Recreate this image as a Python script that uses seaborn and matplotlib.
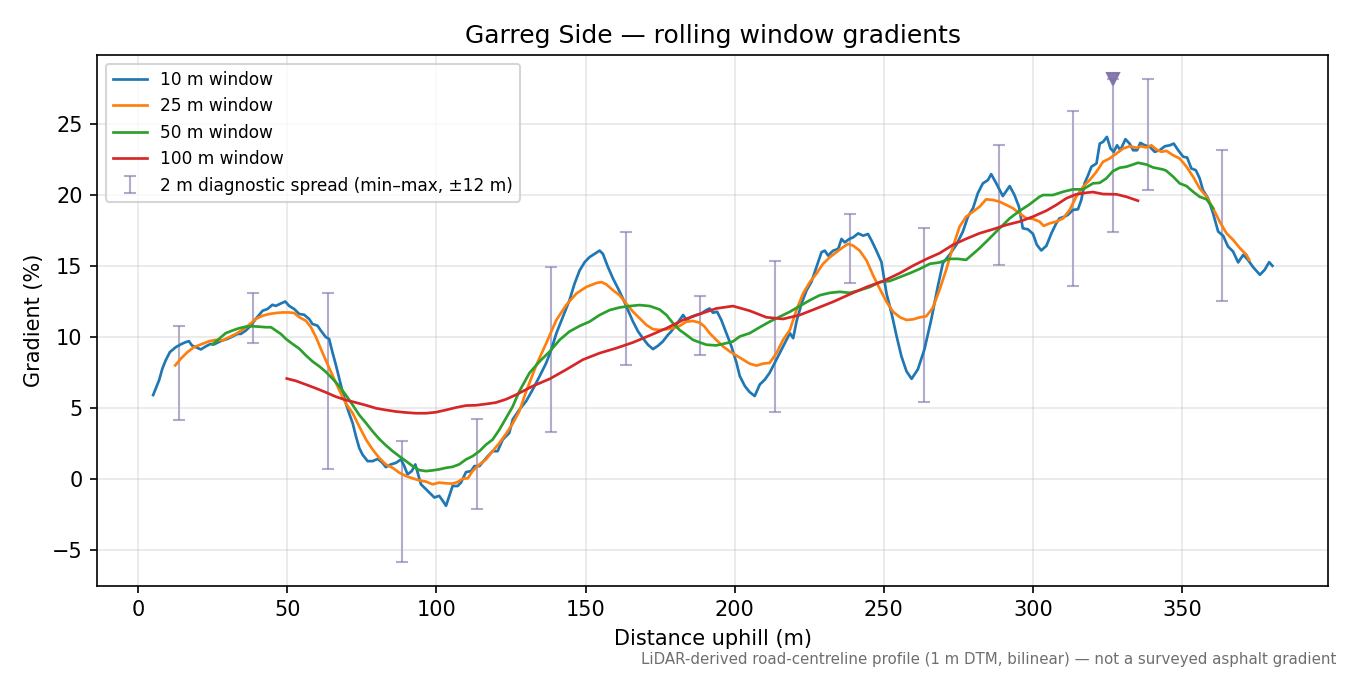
import numpy as np
import pandas as pd
import matplotlib
matplotlib.use("Agg")
import matplotlib.pyplot as plt
import seaborn as sns

# ---------------- data ----------------
x10 = [5.0, 7.0, 8.1, 9.2, 10.6, 12.6, 14.6, 15.9, 17.0, 18.0, 19.3, 21.0, 22.6, 24.3, 25.4,
       26.9, 28.2, 29.9, 31.6, 33.3, 34.4, 36.1, 37.7, 39.4, 41.7, 43.3, 45.0, 46.1, 47.8, 49.3,
       50.6, 52.3, 54.0, 55.6, 57.3, 58.4, 60.1, 61.2, 62.9, 64.0, 65.1, 66.3, 67.4, 68.5, 69.6,
       70.7, 71.9, 73.0, 74.1, 75.2, 76.9, 78.6, 80.3, 81.9, 83.0, 84.7, 86.4, 88.1, 89.2, 90.3,
       91.7, 92.9, 93.7, 94.8, 96.5, 98.2, 99.3, 100.9, 102.1, 103.2, 104.3, 105.4, 107.1, 108.2,
       109.9, 111.6, 112.7, 114.4, 115.5, 117.2, 118.8, 120.5, 122.2, 124.4,
       125.6, 127.9, 130.1, 132.3, 134.6, 136.8, 138.5, 140.2, 142.4, 144.6, 146.3, 148.0, 149.7,
       151.3, 153.0, 154.7, 155.8, 157.5, 159.2, 160.9, 162.5, 164.2, 165.9, 167.6, 169.2, 170.9,
       172.6, 174.3, 175.9, 177.6, 178.7, 179.9, 181.5, 182.7, 183.8, 185.5, 187.1, 188.8, 190.5,
       191.6, 192.7, 194.1, 195.5, 197.2, 198.9, 200.6, 201.7, 203.4, 205.0, 206.7, 208.4, 210.1,
       211.7, 213.4, 215.1, 216.8, 218.5, 219.6, 220.7, 222.4, 224.1, 225.7, 227.4, 229.1, 230.2,
       231.3, 233.0, 234.7, 235.8, 236.9, 238.4, 239.7, 241.4, 243.1, 244.7, 245.9, 247.5, 249.2,
       250.9, 252.6, 254.3, 255.9, 257.6, 259.3,
       261.4, 263.6, 265.9, 268.1, 269.8, 272.0, 274.3, 276.5, 278.2, 279.9, 281.5, 283.2, 284.9,
       286.0, 287.7, 289.9, 292.2, 293.8, 295.3, 296.6, 298.3, 300.0, 301.3, 302.8, 304.5, 306.2,
       307.8, 308.9, 310.6, 311.7, 313.4, 315.1, 316.2, 317.3, 318.5, 319.6, 321.3, 322.4, 323.5,
       324.8, 326.0, 327.1, 328.2, 329.3, 331.0, 332.4, 333.6, 334.9, 336.0, 337.5, 339.2, 340.8,
       342.5, 344.2, 345.9, 347.2, 348.7, 350.4, 351.7, 353.1, 354.6, 355.9, 357.0, 358.7, 360.4,
       362.1, 363.8, 365.4, 367.1, 368.8, 370.5, 372.1, 373.8, 376.1, 377.7, 379.2, 380.3]
g10 = [5.93, 6.98, 7.8, 8.37, 8.95, 9.3, 9.53, 9.65, 9.72, 9.42, 9.3, 9.14, 9.35, 9.53, 9.49,
       9.65, 9.77, 9.88, 10.05, 10.23, 10.23, 10.47, 10.81, 11.28, 11.86, 11.98, 12.28, 12.2, 12.37, 12.51,
       12.2, 11.98, 11.63, 11.58, 11.28, 10.93, 10.81, 10.47, 10.0, 9.88, 8.95, 8.02, 7.09, 6.16, 5.35,
       4.65, 3.95, 3.02, 2.21, 1.74, 1.28, 1.28, 1.44, 1.16, 0.86, 1.05, 1.16, 1.4, 0.93, 0.35,
       0.58, 1.05, 0.47, -0.35, -0.7, -1.05, -1.28, -1.16, -1.51, -1.86, -1.16, -0.47, -0.47, -0.23,
       0.51, 0.58, 0.93, 0.93, 1.21, 1.63, 1.98, 1.98, 2.79, 3.26,
       4.23, 4.93, 5.51, 6.33, 7.26, 8.19, 9.12, 10.28, 11.44, 12.6, 13.77, 14.7, 15.28,
       15.63, 15.86, 16.09, 15.86, 14.93, 14.12, 13.42, 12.72, 11.91, 11.09, 10.4, 9.93, 9.47,
       9.16, 9.4, 9.7, 10.16, 10.4, 10.74, 11.21, 11.56, 11.21, 11.44, 11.56, 11.67, 11.91,
       12.02, 11.72, 11.79, 11.21, 10.28, 9.35, 8.19, 7.26, 6.56, 6.14, 5.86, 6.67, 7.02,
       7.49, 8.19, 8.88, 9.58, 10.28, 9.93, 11.09, 12.37, 13.3, 13.88, 14.93, 15.98, 16.09,
       15.74, 16.09, 16.21, 16.91, 16.67, 16.91, 17.02, 17.3, 17.14, 17.26, 16.79, 16.09, 15.28,
       13.07, 11.67, 10.05, 8.65, 7.6, 7.07,
       7.73, 9.14, 11.24, 13.57, 15.21, 15.79, 16.5, 17.43, 18.48, 19.07, 20.12, 20.82, 21.05,
       21.47, 20.82, 19.93, 20.63, 20.0, 19.18, 17.66, 17.59, 17.27, 16.5, 16.1, 16.43, 17.31,
       18.01, 18.36, 18.48, 18.6, 18.95, 19.0, 19.65, 20.82, 21.4, 21.99, 22.22, 23.62, 23.74,
       24.09, 23.27, 23.04, 23.5, 23.15, 23.93, 23.62, 23.15, 23.15, 23.67, 23.5, 23.39, 23.04,
       23.15, 23.43, 23.5, 23.62, 23.15, 22.69, 22.64, 21.87, 21.75, 21.17, 20.35, 19.77, 18.71,
       17.43, 17.13, 16.38, 16.03, 15.26, 15.79, 15.44, 14.93, 14.39, 14.74, 15.28, 15.02]

x25 = [12.4, 14.3, 16.5, 18.7, 21.0, 23.8, 26.0, 28.2, 30.5, 32.7, 34.9, 37.2, 39.4, 41.7, 43.9,
       46.1, 48.4, 50.6, 52.3, 54.0, 56.2, 57.9, 59.6, 61.2, 62.9, 65.1, 67.4, 69.6, 71.9, 74.1,
       76.4, 78.6, 80.8, 83.0, 85.3, 87.5, 89.8, 92.0, 94.2, 96.5, 98.7, 100.9, 103.2, 105.4, 107.1,
       108.8, 110.5, 112.1, 114.4, 116.6, 118.8, 121.1, 123.3, 125.5, 127.8, 130.1, 133.4, 136.8,
       140.2, 143.5, 146.9, 150.2, 153.6, 155.3, 156.9, 159.2, 161.4, 163.6, 165.9, 168.1, 170.4,
       172.6, 174.8, 177.1, 179.3, 181.5, 183.8, 186.0, 188.3, 189.9, 191.6, 193.8, 196.1, 198.3,
       200.6, 202.8, 205.0, 207.3, 209.5, 211.7, 214.0, 216.2, 218.5, 220.7, 222.9, 225.2, 227.4,
       229.6, 231.9, 234.1, 236.3, 238.0, 239.7, 241.9, 244.2, 246.4, 248.6, 250.9, 253.1, 255.4,
       257.6, 259.9, 262.1, 264.2, 266.4, 268.7, 270.9, 273.2, 275.4, 277.6, 279.9, 282.1, 284.3,
       286.6, 288.8, 291.1, 293.3, 295.5, 297.8, 300.0, 302.2, 303.6, 305.6, 307.8, 310.1, 312.3,
       314.5, 316.8, 319.0, 321.3, 323.5, 325.7, 328.0, 330.2, 332.4, 334.7, 336.4, 338.0, 339.7,
       341.4, 343.1, 344.7, 347.0, 349.2, 351.5, 353.7, 355.9, 358.2, 360.4, 362.6, 364.9, 367.1,
       369.4, 371.6, 372.5]
g25 = [8.02, 8.49, 8.95, 9.3, 9.49, 9.72, 9.81, 9.77, 10.0, 10.23, 10.51, 10.88, 11.28, 11.51, 11.63,
       11.7, 11.74, 11.74, 11.7, 11.4, 11.16, 10.7, 10.0, 9.19, 8.37, 7.33, 6.28, 5.35, 4.65, 3.72,
       2.79, 2.09, 1.51, 1.05, 0.81, 0.47, 0.23, 0.07, -0.07, -0.16, -0.35, -0.23, -0.28, -0.3, -0.19,
       0.05, 0.07, 0.58, 1.05, 1.4, 1.98, 2.56, 3.2, 3.9, 4.8, 6.2, 8.0, 9.58,
       11.21, 12.26, 13.07, 13.53, 13.81, 13.88, 13.72, 13.3, 12.95, 12.37, 11.79, 11.33, 10.86,
       10.56, 10.51, 10.56, 10.63, 10.79, 11.09, 11.14, 11.02, 10.74, 10.28, 9.81, 9.35, 9.0,
       8.7, 8.42, 8.14, 8.0, 8.14, 8.19, 8.88, 9.81, 10.51, 11.91, 13.07, 13.88, 14.47,
       15.16, 15.63, 15.98, 16.33, 16.56, 16.44, 16.09, 15.4, 14.35, 13.42, 12.49, 11.79, 11.4,
       11.21, 11.26, 11.4, 11.47, 12.06, 13.34, 14.74, 16.38, 17.78, 18.48, 18.83, 19.18, 19.7,
       19.65, 19.53, 19.3, 19.07, 18.71, 18.36, 18.32, 18.13, 17.83, 18.01, 18.13, 18.36, 18.95,
       19.88, 20.58, 21.05, 21.64, 22.34, 22.57, 22.92, 23.27, 23.43, 23.32, 23.43, 23.34, 23.5,
       23.2, 23.04, 23.11, 22.8, 22.57, 21.99, 21.29, 20.47, 19.88, 19.07, 18.13, 17.31, 16.85,
       16.26, 15.79, 15.44]

x50 = [24.9, 27.1, 29.3, 31.6, 33.8, 36.1, 38.3, 40.5, 42.8, 44.5, 46.1, 47.8, 49.5, 51.7, 54.0,
       56.2, 58.4, 60.7, 62.9, 65.1, 67.4, 69.6, 71.9, 74.1, 76.4, 78.6, 80.8, 83.0, 85.3, 87.5,
       89.8, 92.0, 94.2, 96.5, 98.7, 100.9, 103.2, 105.4, 107.6, 109.9, 112.1, 114.4, 116.6, 118.8,
       121.1, 123.3, 125.5, 127.8, 131.2, 134.6, 138.0, 141.3, 144.6, 148.0, 151.3, 154.7, 158.1,
       161.4, 164.8, 168.1, 171.5, 174.8, 177.1, 179.3, 181.5, 183.8, 186.0, 188.3, 190.5, 193.8,
       197.2, 199.4, 201.7, 205.0, 208.4, 211.7, 215.1, 218.5, 221.8, 225.2, 228.5, 231.9, 235.2,
       238.6, 241.9, 245.3, 248.7, 252.0, 255.4, 258.8, 262.1, 265.4, 268.7, 272.0, 274.8, 277.6,
       279.9, 282.1, 285.5, 288.8, 292.2, 295.5, 298.9, 302.2, 303.4, 306.7, 310.1, 313.4, 316.8,
       320.1, 322.4, 324.6, 326.8, 329.1, 331.3, 333.6, 335.2, 338.0, 340.3, 343.6, 344.7, 347.0,
       349.2, 351.5, 353.7, 355.9, 358.2, 360.4]
g50 = [9.49, 9.88, 10.28, 10.47, 10.63, 10.74, 10.77, 10.74, 10.7, 10.7, 10.47, 10.23, 9.88, 9.53, 9.19,
       8.72, 8.3, 7.95, 7.56, 7.09, 6.56, 5.93, 5.23, 4.53, 3.95, 3.37, 2.84, 2.4, 1.98, 1.63,
       1.28, 0.93, 0.65, 0.58, 0.63, 0.7, 0.81, 0.88, 1.05, 1.4, 1.63, 1.98, 2.44, 2.79,
       3.5, 4.3, 5.1, 6.2, 7.49, 8.3, 9.0, 9.81, 10.4, 10.79, 11.09, 11.56, 11.91,
       12.09, 12.19, 12.26, 12.19, 11.95, 11.56, 10.98, 10.51, 10.16, 9.81, 9.63, 9.47, 9.42,
       9.58, 9.7, 10.05, 10.28, 10.7, 11.09, 11.44, 11.79, 12.19, 12.6, 12.95, 13.12, 13.19,
       13.12, 13.3, 13.53, 13.88, 13.95, 14.23, 14.51, 14.81, 15.16, 15.26, 15.51, 15.51, 15.44,
       15.86, 16.26, 16.96, 17.66, 18.36, 18.88, 19.35, 19.88, 20.0, 20.0, 20.23, 20.4, 20.4,
       20.82, 20.86, 21.17, 21.68, 21.92, 21.99, 22.15, 22.27, 22.15, 21.94, 21.8, 21.71, 21.29,
       20.82, 20.63, 20.23, 19.88, 19.7, 19.07]

x100 = [49.8, 52.8, 56.2, 59.6, 62.9, 66.3, 69.6, 73.0, 76.4, 79.7, 83.0, 86.4, 89.8, 93.1, 96.5,
        99.8, 103.2, 106.5, 109.9, 113.2, 116.6, 119.9, 123.3, 126.7, 132.3, 138.0, 143.5, 149.1,
        154.7, 160.3, 165.9, 171.5, 177.1, 182.7, 188.3, 193.8, 199.4, 205.0, 210.6, 216.2, 221.8,
        227.4, 233.0, 238.6, 244.2, 249.8, 255.4, 259.7, 264.2, 268.7, 273.2, 277.6, 282.1, 286.6,
        291.1, 295.5, 300.0, 304.5, 307.8, 311.2, 314.5, 317.9, 320.1, 323.5, 328.0, 331.3, 335.2]
g100 = [7.09, 6.93, 6.67, 6.4, 6.12, 5.81, 5.58, 5.4, 5.21, 5.0, 4.88, 4.77, 4.7, 4.65, 4.65,
        4.72, 4.88, 5.05, 5.19, 5.21, 5.3, 5.4, 5.63, 5.95, 6.56, 7.07, 7.72, 8.42,
        8.88, 9.23, 9.63, 10.12, 10.63, 11.21, 11.63, 12.02, 12.19, 11.86, 11.4, 11.28, 11.56,
        12.02, 12.49, 13.02, 13.53, 13.95, 14.51, 15.02, 15.49, 15.91, 16.5, 16.92, 17.31, 17.59,
        17.9, 18.13, 18.48, 18.9, 19.3, 19.77, 20.05, 20.16, 20.21, 20.07, 20.05, 19.88, 19.6]

spread_x = [13.5, 38.5, 63.5, 88.5, 113.5, 138.5, 163.5, 188.5, 213.5, 238.5, 263.5, 288.5,
            313.5, 327.0, 338.5, 363.5]
spread_lo = [4.15, 9.6, 0.7, -5.8, -2.1, 3.35, 8.07, 8.77, 4.74, 13.81, 5.45, 15.09,
             13.57, 17.43, 20.35, 12.52]
spread_hi = [10.77, 13.14, 13.14, 2.72, 4.26, 14.93, 17.42, 12.88, 15.33, 18.65, 17.7, 23.5,
             25.89, 28.13, 28.13, 23.15]

peak_x = 327.0
peak_val = 28.13

series_labels = ["10 m window", "25 m window", "50 m window", "100 m window"]
series_colors = ["#1f77b4", "#ff7f0e", "#2ca02c", "#d62728"]

# ---------------- plot ----------------
plt.rcParams["font.family"] = ["DejaVu Sans"]
fig, ax = plt.subplots(figsize=(9, 4.5), dpi=150)
fig.subplots_adjust(left=0.072, right=0.984, top=0.918, bottom=0.132)

for xs, ys, lab, col in zip([x10, x25, x50, x100], [g10, g25, g50, g100],
                            series_labels, series_colors):
    df = pd.DataFrame({"d": xs, "g": ys})
    sns.lineplot(data=df, x="d", y="g", ax=ax, color=col, lw=1.3,
                 label=lab, estimator=None, sort=True)

lo = np.array(spread_lo)
hi = np.array(spread_hi)
ax.errorbar(spread_x, (lo + hi) / 2, yerr=(hi - lo) / 2, fmt="none",
            ecolor="#8073ac", alpha=0.6, elinewidth=1.0, capsize=3,
            label="2 m diagnostic spread (min\u2013max, \u00b112 m)", zorder=1)
ax.plot([peak_x], [peak_val], marker="v", ls="none", ms=6, color="#8073ac",
        alpha=0.95, label="_nolegend_")

ax.grid(True, alpha=0.3)
ax.set_xticks(np.arange(0, 351, 50))
ax.set_xlabel("Distance uphill (m)", fontsize=10)
ax.set_ylabel("Gradient (%)", fontsize=10)
ax.set_title("Garreg Side \u2014 rolling window gradients", fontsize=12)
ax.tick_params(labelsize=10)
ax.legend(loc="upper left", fontsize=8.2)

fig.text(0.99, 0.012,
         "LiDAR-derived road-centreline profile (1 m DTM, bilinear) \u2014 not a surveyed asphalt gradient",
         ha="right", va="bottom", fontsize=7.2, color="#6e6e6e")

fig.savefig("out.png", dpi=150)
